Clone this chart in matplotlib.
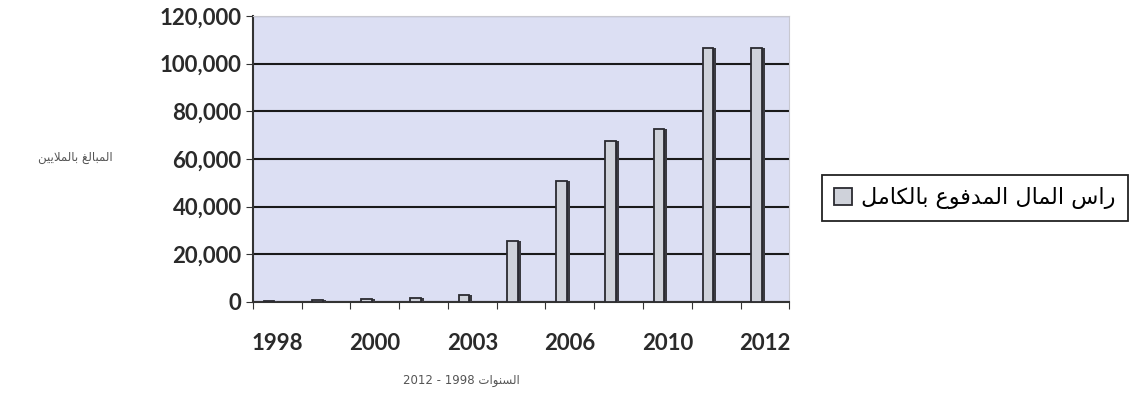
import numpy as np
import matplotlib
matplotlib.use('Agg')
import matplotlib.pyplot as plt
from matplotlib.ticker import FuncFormatter


# arabic letters -> presentation forms (isolated, final, initial, medial)
forms = {
    'ا': ('\uFE8D', '\uFE8E', None, None),
    'ب': ('\uFE8F', '\uFE90', '\uFE91', '\uFE92'),
    'ت': ('\uFE95', '\uFE96', '\uFE97', '\uFE98'),
    'د': ('\uFEA9', '\uFEAA', None, None),
    'ر': ('\uFEAD', '\uFEAE', None, None),
    'س': ('\uFEB1', '\uFEB2', '\uFEB3', '\uFEB4'),
    'ع': ('\uFEC9', '\uFECA', '\uFECB', '\uFECC'),
    'غ': ('\uFECD', '\uFECE', '\uFECF', '\uFED0'),
    'ف': ('\uFED1', '\uFED2', '\uFED3', '\uFED4'),
    'ك': ('\uFED9', '\uFEDA', '\uFEDB', '\uFEDC'),
    'ل': ('\uFEDD', '\uFEDE', '\uFEDF', '\uFEE0'),
    'م': ('\uFEE1', '\uFEE2', '\uFEE3', '\uFEE4'),
    'ن': ('\uFEE5', '\uFEE6', '\uFEE7', '\uFEE8'),
    'و': ('\uFEED', '\uFEEE', None, None),
    'ي': ('\uFEF1', '\uFEF2', '\uFEF3', '\uFEF4'),
}


def dual(c):
    return c in forms and forms[c][2] is not None


def shape_word(w):
    if not any(c in forms for c in w):
        return w
    out = []
    i = 0
    while i < len(w):
        c = w[i]
        prev_join = i > 0 and dual(w[i - 1])
        if c == 'ل' and i + 1 < len(w) and w[i + 1] == 'ا':
            out.append('\uFEFC' if prev_join else '\uFEFB')
            i += 2
            continue
        next_join = dual(c) and i + 1 < len(w) and w[i + 1] in forms
        f = forms[c]
        if prev_join and next_join:
            out.append(f[3])
        elif prev_join:
            out.append(f[1])
        elif next_join:
            out.append(f[2])
        else:
            out.append(f[0])
        i += 1
    return ''.join(reversed(out))


def ar(s):
    return ' '.join(shape_word(w) for w in reversed(s.split(' ')))


years = ['1998', '1999', '2000', '2001', '2003', '2005', '2006', '2008', '2010', '2011', '2012']
shown = ['1998', '2000', '2003', '2006', '2010', '2012']
capital = [600, 800, 1200, 1800, 3000, 25800, 50900, 67500, 72500, 106600, 106600]

series_name = 'راس المال المدفوع بالكامل'
y_title = 'المبالغ بالملايين'
x_title = 'السنوات 1998 - 2012'

fig = plt.figure(figsize=(11.39, 4.0), dpi=100)
ax = fig.add_axes([0.222, 0.245, 0.471, 0.715])
ax.set_facecolor('#dcdff3')

x = np.arange(len(years))
# side face then front face, a rough 3D look
ax.bar(x - 0.05, capital, width=0.1, color='#3a3a40', zorder=3)
bars = ax.bar(x - 0.17, capital, width=0.22, color='#cfd2da',
              edgecolor='#2a2a30', linewidth=1.3, zorder=4, label=ar(series_name))

ax.set_xlim(-0.5, len(years) - 0.5)
ax.set_ylim(0, 120000)
ax.set_yticks(np.arange(0, 120001, 20000))
ax.yaxis.set_major_formatter(FuncFormatter(lambda v, p: f'{int(v):,}'))
ax.yaxis.grid(True, color='#1a1a1a', linewidth=1.5, zorder=1)
ax.set_axisbelow(True)

ax.set_xticks(np.arange(-0.5, len(years), 1.0))
ax.set_xticklabels([])
ax.set_xticks(x, minor=True)
ax.set_xticklabels([y if y in shown else '' for y in years], minor=True)
ax.tick_params(axis='x', which='minor', length=0, pad=22)
ax.tick_params(axis='x', which='major', length=5, direction='out', color='#333')
ax.tick_params(axis='y', length=5, direction='out', color='#333', pad=3)

for lab in ax.get_xticklabels(minor=True) + ax.get_yticklabels():
    lab.set_fontfamily('Lato')
    lab.set_fontweight('bold')
    lab.set_fontsize(16)
    lab.set_color('#2a2a2a')

ax.spines['left'].set_color('#333333')
ax.spines['left'].set_linewidth(1.5)
ax.spines['bottom'].set_color('#333333')
ax.spines['bottom'].set_linewidth(1.5)
ax.spines['top'].set_color('#c8c8d0')
ax.spines['right'].set_color('#c8c8d0')

fig.text(0.066, 0.605, ar(y_title), fontsize=8.5, color='#555555',
         ha='center', va='center', family='DejaVu Sans')
fig.text(0.405, 0.048, ar(x_title), fontsize=8.5, color='#555555',
         ha='center', va='center', family='DejaVu Sans')

leg = fig.legend(handles=[bars], loc='center left', bbox_to_anchor=(0.712, 0.505),
                 fancybox=False, edgecolor='#222222', framealpha=1,
                 prop={'family': 'DejaVu Sans', 'size': 16}, handlelength=0.8,
                 handleheight=0.8, handletextpad=0.4, borderpad=0.55)
leg.get_frame().set_linewidth(1.3)

fig.savefig('out.png', dpi=100, facecolor='white')
